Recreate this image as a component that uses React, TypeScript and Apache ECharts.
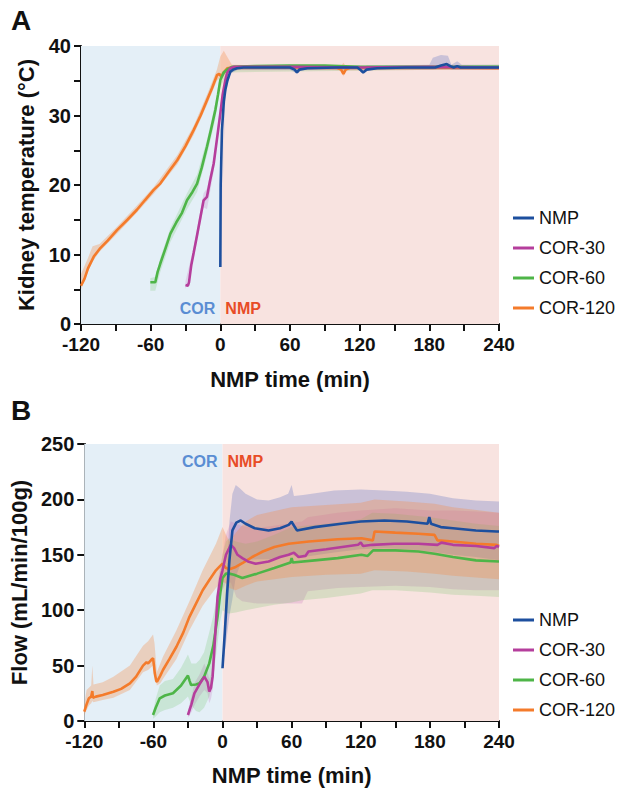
import React, { useEffect, useRef } from "react";
import * as echarts from "echarts";

// ---------- data ----------
const seriesNames = ["NMP", "COR-30", "COR-60", "COR-120"];
const seriesColors = ["#1d4f9e", "#b53e9c", "#4eb548", "#f47b2b"];
const bandColors = [
  "rgba(70,95,190,0.26)",
  "rgba(190,85,180,0.20)",
  "rgba(95,190,85,0.20)",
  "rgba(245,140,70,0.32)",
];
const xTickLabels = [-120, -60, 0, 60, 120, 180, 240];
const tempTicks = [0, 10, 20, 30, 40];
const flowTicks = [0, 50, 100, 150, 200, 250];

// Panel A: kidney temperature (°C)
const tempNMP = [[0,8.2],[0.3,20],[1.4,27.9],[3,32],[4.3,33.7],[6,35],[8.6,36.3],[11,36.6],[14.4,36.8],[20,36.9],[40,36.9],[60,36.9],[64,36.6],[66,36.2],[68,36.6],[75,36.8],[100,36.9],[118,36.9],[121,36.5],[123,36.2],[126,36.6],[135,36.8],[160,36.9],[185,36.9],[190,37.2],[195,37.4],[198,37.1],[201,36.9],[204,37.1],[207,36.9],[240,36.9]];
const tempCOR30 = [[-30,5.6],[-28,5.5],[-27,6.0],[-25,8.5],[-23,10.2],[-20,12.8],[-17,15.5],[-14.4,17.8],[-11.5,18.3],[-9,20.5],[-5.7,23.1],[-3,26.5],[0,30.3],[2,33],[4.3,35.1],[6,36.2],[8.6,36.8],[12,37],[20,37],[60,37],[120,36.9],[180,37.0],[240,36.9]];
const tempCOR60 = [[-60.3,6.0],[-56,6.0],[-54,7.5],[-51.7,8.7],[-47,11],[-43,13],[-38,14.6],[-33,16],[-28.7,17.8],[-24,19],[-20,20.2],[-16,22.5],[-11.5,25.5],[-8,28],[-4.3,30.8],[-2,33],[0,35.1],[3,36.2],[5.7,36.6],[10,37],[30,37.1],[60,37.2],[90,37.2],[120,37.0],[180,37.0],[240,37.0]];
const tempCOR120 = [[-120,5.5],[-117,6.5],[-114,8],[-109,9.7],[-104,10.8],[-97,12],[-89,13.5],[-80,15],[-72,16.4],[-65,17.8],[-57.4,19.3],[-51.7,20.2],[-44,22],[-37,23.6],[-30,25.6],[-23,27.9],[-17,30],[-11.5,32.2],[-7,34],[-2.9,35.8],[-1,36],[1,35.6],[3,36.2],[6,36.8],[10,36.9],[60,36.9],[100,36.9],[104,36.6],[106,36.0],[108,36.6],[112,36.9],[180,36.9],[240,36.8]];

// bands: [x, low, high]
const tempBandNMP = [[0,8.2,8.2],[4.3,33,34.5],[8.6,36,36.6],[15,36.6,37.2],[60,36.6,37.3],[66,36,36.6],[70,36.6,37.2],[120,36.6,37.2],[123,36.0,36.5],[126,36.6,37.2],[180,36.6,37.3],[183,36.6,38.3],[190,36.8,38.7],[196,36.8,38.6],[199,36.6,37.3],[204,36.6,37.8],[208,36.6,37.3],[240,36.6,37.3]];
const tempBandCOR30 = [[-30,5.0,6.2],[-23,9.5,11],[-14.4,16.8,18.8],[-11.5,16.5,19.5],[-5.7,22,24],[0,29.5,31.5],[4.3,34.5,36],[8.6,36.5,37.1],[240,36.6,37.2]];
const tempBandCOR60 = [[-60.3,4.8,6.6],[-56,4.8,6.8],[-51.7,7.5,9.5],[-43,11.8,13.8],[-28.7,16.5,18.8],[-20,19,21.5],[-11.5,24.3,26.5],[-4.3,29.5,31.8],[0,34,36],[5.7,36.2,37.0],[240,36.7,37.3]];
const tempBandCOR120 = [[-120,5.0,7.2],[-114,7.5,9.5],[-110,9.0,11.2],[-104,10.4,11.5],[-89,13.0,14.0],[-72,16.0,17.0],[-57,18.8,19.8],[-37,23.0,24.3],[-23,27.2,28.5],[-11.5,31.5,33],[-3,35.0,36.6],[0,35.4,38.5],[3,35.8,39.3],[6,36.4,38.4],[10,36.6,37.3],[60,36.7,37.1],[104,36.5,37.1],[106,35.6,37.6],[108,36.5,37.1],[240,36.6,37.0]];

// Panel B: flow (mL/min/100g)
const flowNMP = [[0,47.6],[2,80],[4,115],[6,145],[8.6,172],[12,179],[15.8,181],[20,178],[28,174],[40,172],[50,174],[57.4,177],[60,180],[61,178],[64.6,172],[80,175],[103,178],[120,180],[140.6,181],[160,180],[178,178],[179.5,184],[181,178],[189.5,175],[200,174],[220,172],[238,171],[240,171]];
const flowCOR30 = [[-30,5.4],[-27,15],[-24.4,25],[-20,33],[-15.8,40],[-13,35],[-11.5,26.5],[-10,30],[-8.6,40],[-6.5,75],[-4.3,112],[-2,128],[0,136],[3,150],[7.2,159],[10,156],[13,150],[17.2,147],[22,144],[28.7,142],[40,144],[50,148],[57.4,150],[62,152],[66,148],[72,149],[74.6,153],[90,155],[110,158],[117.7,159],[120,161],[122,158],[130,159],[149,160],[170,160],[186.6,159],[190,161],[200,159],[220,158],[236,156],[238,158],[240,157]];
const flowCOR60 = [[-60.3,5.4],[-58,12],[-54.5,20.5],[-50,23],[-43,25],[-36,32],[-30,41],[-28.5,36],[-27.3,32.5],[-23,33],[-20,34],[-16,40],[-11.5,52],[-8,68],[-4.3,94],[-2,115],[0,129],[3,133],[5.7,133],[10,132],[17.2,129],[30,133],[45,138],[59,143],[60,147],[61,143],[80,145],[100,147],[120.6,150],[126,149],[130.7,154],[150,154],[170,153],[184,151],[200,148],[220,145],[240,144]];
const flowCOR120 = [[-120,8.4],[-118,15],[-116,20.5],[-114,22],[-113,27],[-112.5,21],[-110,22],[-104,23.5],[-94.7,26.4],[-88,29],[-80.4,34],[-75,40],[-69,50],[-66,53],[-64.6,52],[-62,55],[-60.3,56.6],[-59.5,50],[-58.8,43],[-57.5,36],[-56.8,35.5],[-54,41],[-51.7,46],[-46,56],[-40,67],[-34,80],[-28.7,94],[-23,106],[-17.2,118],[-11,128],[-5.7,136],[-2,140],[0,142],[3,138],[6,137],[11.5,139],[18,143],[25.8,148],[35,153],[45,157],[57.4,160],[75,162],[100,164],[120.6,165],[130.5,163],[132,171],[150,170],[170,169],[184,168],[186.6,163],[200,162],[220,160],[238,159],[240,158]];

const flowBandNMP = [[0,47,48],[3,70,120],[6,95,180],[8.6,110,205],[11.5,130,213],[15,140,210],[20,145,205],[30,146,200],[40,146,199],[50,148,202],[57,150,205],[60,152,213],[62,149,203],[70,148,204],[97,152,208],[120,155,209],[140,156,208],[160,155,207],[180,153,205],[200,150,201],[220,148,199],[240,145,198]];
const flowBandCOR30 = [[-30,3,10],[-27,8,22],[-24,15,35],[-20,22,42],[-15.8,28,52],[-13,25,45],[-11.5,16,38],[-10,20,42],[-8.6,28,52],[-6.5,55,90],[-4.3,92,125],[-2,110,140],[0,118,150],[3,125,168],[7.2,125,180],[12,112,178],[17,108,176],[30,106,174],[69,106,180],[74,117,184],[100,120,188],[120,121,190],[150,122,192],[180,121,190],[200,119,190],[220,118,189],[240,118,188]];
const flowBandCOR60 = [[-60.3,2,8],[-58,4,20],[-54.5,8,32],[-50,10,36],[-43,12,38],[-36,16,48],[-30,22,60],[-27,14,52],[-23,9,52],[-20,8,55],[-16,12,62],[-11.5,22,80],[-8,40,95],[-4.3,70,115],[-2,90,135],[0,100,150],[3,98,162],[5.7,97,165],[11.5,98,162],[20,100,160],[30,102,162],[45,105,168],[60,107,175],[69,109,176],[90,111,178],[120,115,182],[130,118,188],[150,118,187],[180,116,184],[200,114,181],[220,113,178],[240,112,176]];
const flowBandCOR120 = [[-120,5,15],[-118,10,28],[-116,14,30],[-114,16,32],[-113,18,50],[-112,17,33],[-104,19,35],[-94.7,21,40],[-80.4,28,50],[-69,44,68],[-64.6,46,72],[-60.3,50,78],[-59,42,70],[-57,32,44],[-54,34,52],[-51.7,38,58],[-40,56,82],[-28.7,82,108],[-17.2,104,136],[-5.7,120,160],[0,126,175],[3,124,168],[6,120,162],[11.5,118,170],[20,122,180],[30,126,186],[60,130,193],[90,132,195],[120,133,197],[132,136,200],[160,135,198],[184,133,196],[200,131,193],[240,128,188]];

const tempLines = [tempNMP, tempCOR30, tempCOR60, tempCOR120];
const tempBands = [tempBandNMP, tempBandCOR30, tempBandCOR60, tempBandCOR120];
const flowLines = [flowNMP, flowCOR30, flowCOR60, flowCOR120];
const flowBands = [flowBandNMP, flowBandCOR30, flowBandCOR60, flowBandCOR120];

// ---------- styling ----------
const FONT = "'Liberation Sans', Arial, Helvetica, sans-serif";
const COR_COLOR = "#5a8dd3";
const NMP_COLOR = "#e84c26";
const COR_BG = "#e4eff7";
const NMP_BG = "#f8e3e0";

function bandSeries(band: number[][], color: string, axisIndex: number) {
  return {
    type: "custom",
    xAxisIndex: axisIndex,
    yAxisIndex: axisIndex,
    silent: true,
    z: 1,
    data: band,
    encode: { x: 0, y: [1, 2] },
    renderItem: (params: any, api: any) => {
      if (params.dataIndex !== 0) return null;
      const upper = band.map((d) => api.coord([d[0], d[2]]));
      const lower = band.map((d) => api.coord([d[0], d[1]])).reverse();
      return {
        type: "polygon",
        shape: { points: upper.concat(lower) },
        style: { fill: color, stroke: "none" },
      };
    },
  };
}

function bgSeries(axisIndex: number, top: boolean) {
  const labelBase = { show: true, fontFamily: FONT, fontWeight: "bold", fontSize: 16, distance: 5 };
  return {
    type: "line",
    xAxisIndex: axisIndex,
    yAxisIndex: axisIndex,
    data: [],
    silent: true,
    z: 0,
    markArea: {
      silent: true,
      data: [
        [
          {
            xAxis: -120,
            itemStyle: { color: COR_BG },
            label: { ...labelBase, formatter: "COR", color: COR_COLOR, position: top ? "insideTopRight" : "insideBottomRight", offset: top ? [0, 4] : [0, -3] },
          },
          { xAxis: 0 },
        ],
        [
          {
            xAxis: 0,
            itemStyle: { color: NMP_BG },
            label: { ...labelBase, formatter: "NMP", color: NMP_COLOR, position: top ? "insideTopLeft" : "insideBottomLeft", offset: top ? [0, 4] : [0, -3] },
          },
          { xAxis: 240 },
        ],
      ],
    },
  };
}

function lineSeries(data: number[][], i: number, axisIndex: number) {
  return {
    type: "line",
    name: seriesNames[i],
    xAxisIndex: axisIndex,
    yAxisIndex: axisIndex,
    data,
    symbol: "none",
    z: 3,
    lineStyle: { color: seriesColors[i], width: 2.6 },
    itemStyle: { color: seriesColors[i] },
  };
}

function xAxisCfg(gridIndex: number, nameGap: number) {
  return {
    type: "value",
    gridIndex,
    min: -120,
    max: 240,
    interval: 30,
    name: "NMP time (min)",
    nameLocation: "middle",
    nameGap,
    nameTextStyle: { fontFamily: FONT, fontWeight: "bold", fontSize: 22, color: "#111" },
    axisLine: { show: true, onZero: false, lineStyle: { color: "#111", width: 2 } },
    axisTick: { show: true, length: 7, lineStyle: { color: "#111", width: 2 } },
    splitLine: { show: false },
    axisLabel: {
      margin: 11,
      fontFamily: FONT,
      fontWeight: "bold",
      fontSize: 19,
      lineHeight: 19,
      color: "#111",
      showMinLabel: true,
      showMaxLabel: true,
      formatter: (v: number) => (xTickLabels.includes(v) ? String(v) : ""),
    },
  };
}

function yAxisCfg(gridIndex: number, name: string, ticks: number[], minor: boolean) {
  return {
    type: "value",
    gridIndex,
    min: ticks[0],
    max: ticks[ticks.length - 1],
    interval: ticks[1] - ticks[0],
    name,
    nameLocation: "middle",
    nameGap: 37,
    nameTextStyle: { fontFamily: FONT, fontWeight: "bold", fontSize: 22, color: "#111" },
    axisLine: { show: true, onZero: false, lineStyle: { color: "#111", width: 2 } },
    axisTick: { show: true, length: 7, lineStyle: { color: "#111", width: 2 } },
    minorTick: { show: minor, splitNumber: 2, length: 7, lineStyle: { color: "#111", width: 2 } },
    splitLine: { show: false },
    axisLabel: { margin: 10, fontFamily: FONT, fontWeight: "bold", fontSize: 20, lineHeight: 18, color: "#111" },
  };
}

function legendCfg(top: number) {
  return {
    orient: "vertical",
    left: 508,
    top,
    data: seriesNames,
    icon: "rect",
    itemWidth: 21,
    itemHeight: 3,
    itemGap: 10,
    textStyle: { fontFamily: FONT, fontSize: 18, color: "#111", lineHeight: 20 },
    selectedMode: false,
  };
}

export default function App() {
  const ref = useRef<HTMLDivElement>(null);
  useEffect(() => {
    if (!ref.current) return;
    const chart = echarts.init(ref.current, null, { renderer: "svg" });
    const series: any[] = [bgSeries(0, false), bgSeries(1, true)];
    tempBands.forEach((b, i) => series.push(bandSeries(b, bandColors[i], 0)));
    flowBands.forEach((b, i) => series.push(bandSeries(b, bandColors[i], 1)));
    // draw order: COR-120, COR-60, COR-30, NMP on top
    [3, 2, 1, 0].forEach((i) => series.push(lineSeries(tempLines[i], i, 0)));
    [3, 2, 1, 0].forEach((i) => series.push(lineSeries(flowLines[i], i, 1)));

    chart.setOption({
      animation: false,
      backgroundColor: "#ffffff",
      textStyle: { fontFamily: FONT },
      grid: [
        { left: 81, top: 46, width: 418, height: 278 },
        { left: 81, top: 444, width: 418, height: 277 },
      ],
      xAxis: [xAxisCfg(0, 44), xAxisCfg(1, 43)],
      yAxis: [
        yAxisCfg(0, "Kidney temperature (°C)", tempTicks, true),
        yAxisCfg(1, "Flow (mL/min/100g)", flowTicks, false),
      ],
      legend: [legendCfg(203), legendCfg(605)],
      graphic: [
        { type: "text", left: 11, top: 6, style: { text: "A", fontFamily: FONT, fontWeight: "bold", fontSize: 28, fill: "#111" } },
        { type: "text", left: 11, top: 396, style: { text: "B", fontFamily: FONT, fontWeight: "bold", fontSize: 28, fill: "#111" } },
      ],
      series,
    });
    return () => chart.dispose();
  }, []);
  return (
    <div
      ref={ref}
      style={{ position: "absolute", left: 0, top: 0, width: 620, height: 790 }}
    />
  );
}
